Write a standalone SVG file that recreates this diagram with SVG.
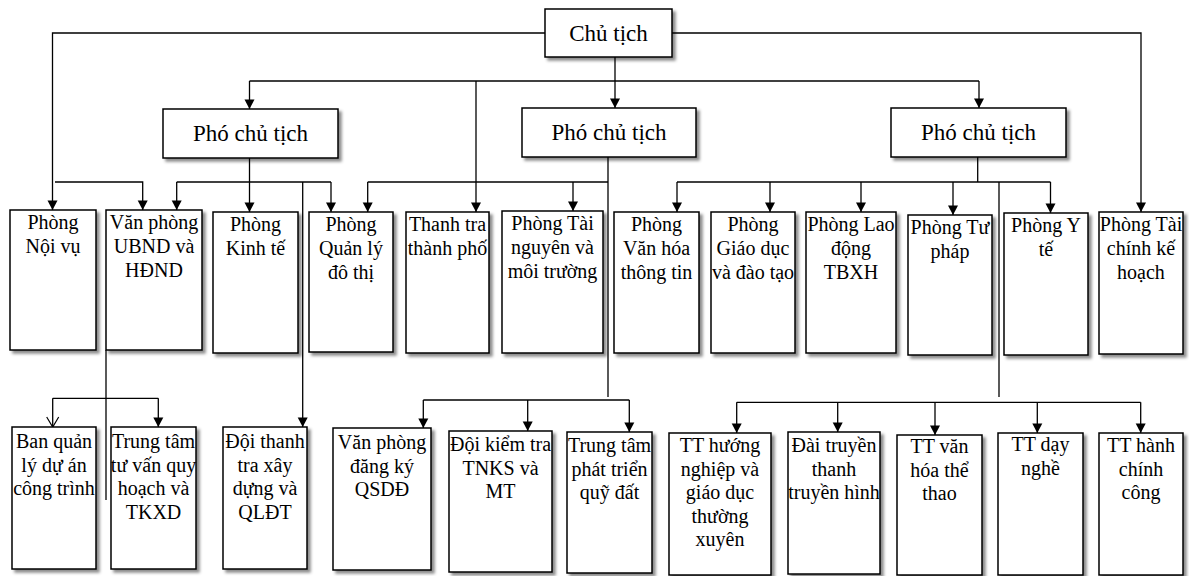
<svg xmlns="http://www.w3.org/2000/svg" width="1189" height="576" viewBox="0 0 1189 576">
  <defs>
    <filter id="shadow" x="-10%" y="-10%" width="130%" height="130%">
      <feDropShadow dx="3" dy="3" stdDeviation="1.6" flood-color="#000" flood-opacity="0.45"/>
    </filter>
    <marker id="arrow" markerUnits="userSpaceOnUse" markerWidth="10" markerHeight="10" refX="9.5" refY="5" orient="auto" overflow="visible">
      <path d="M0,0 L9.5,5 L0,10 z" fill="#000"/>
    </marker>
    <marker id="open" markerUnits="userSpaceOnUse" markerWidth="10" markerHeight="12" refX="10" refY="6" orient="auto" overflow="visible">
      <path d="M0,0 L10,6 L0,12" fill="none" stroke="#000" stroke-width="1.2"/>
    </marker>
    <style>
      .box { fill: #fff; stroke: #000; stroke-width: 1.5; filter: url(#shadow); }
      .lbl { font-family: "Liberation Serif", "Times New Roman", serif; font-size: 20px; fill: #000; text-anchor: middle; }
      .head { font-size: 23px; }
      .conn path { fill: none; stroke: #000; stroke-width: 1.3; }
      .conn .a { marker-end: url(#arrow); }
      .conn .o { marker-end: url(#open); }
    </style>
  </defs>
  <rect width="1189" height="576" fill="#fff"/>

  <!-- connectors -->
  <g id="connectors" class="conn">
    <path class="a" d="M545,33 H52.5 V210"/>
    <path class="a" d="M672,33 H1141 V212"/>
    <path class="a" d="M615,57 V108"/>
    <path d="M249.5,81 H979"/>
    <path class="a" d="M249.5,81 V109"/>
    <path class="a" d="M979,81 V108"/>
    <path class="a" d="M476,81 V212"/>

    <!-- left deputy -->
    <path class="a" d="M249.5,158 V212"/>
    <path d="M176.7,182 H331"/>
    <path class="a" d="M176.7,182 V210"/>
    <path class="a" d="M331,182 V212"/>
    <path class="a" d="M302.7,182 V427"/>
    <path class="a" d="M55,182 H142.7 V210"/>

    <!-- middle deputy -->
    <path d="M608,157 V397"/>
    <path d="M367.7,182 H608"/>
    <path class="a" d="M367.7,182 V212"/>
    <path class="a" d="M573,182 V211"/>
    <path d="M423.3,400 H629.3"/>
    <path class="a" d="M423.3,400 V428"/>
    <path class="a" d="M527.7,400 V431"/>
    <path class="a" d="M629.3,400 V432"/>

    <!-- right deputy -->
    <path d="M977.7,157 V182"/>
    <path d="M677,182 H1050.5"/>
    <path class="a" d="M677,182 V212"/>
    <path class="a" d="M770,182 V212"/>
    <path class="a" d="M861,182 V212"/>
    <path class="a" d="M953,182 V215"/>
    <path class="a" d="M1050.5,182 V213"/>
    <path d="M999,182 V397"/>
    <path d="M736.7,402.3 H1140.7"/>
    <path class="a" d="M736.7,402.3 V433"/>
    <path class="a" d="M837.7,402.3 V432"/>
    <path class="a" d="M935,402.3 V435"/>
    <path class="a" d="M1037.3,402.3 V433"/>
    <path class="a" d="M1140.7,402.3 V433"/>

    <!-- office of people's committee -->
    <path d="M106,350 V500"/>
    <path d="M52.7,398.3 H158.3"/>
    <path class="o" d="M52.7,398.3 V427"/>
    <path class="a" d="M158.3,398.3 V427"/>
  </g>

  <!-- top level -->
  <g id="chu-tich">
    <rect class="box" x="545" y="9" width="127" height="48"/>
    <text class="lbl head" x="608.5" y="41">Chủ tịch</text>
  </g>
  <g id="pho-chu-tich-1">
    <rect class="box" x="163" y="109" width="175" height="49"/>
    <text class="lbl head" x="250.5" y="141">Phó chủ tịch</text>
  </g>
  <g id="pho-chu-tich-2">
    <rect class="box" x="522" y="108" width="174" height="49"/>
    <text class="lbl head" x="609" y="140">Phó chủ tịch</text>
  </g>
  <g id="pho-chu-tich-3">
    <rect class="box" x="891" y="108" width="175" height="49"/>
    <text class="lbl head" x="978.5" y="140">Phó chủ tịch</text>
  </g>

  <!-- departments -->
  <g id="noi-vu">
    <rect class="box" x="10" y="210" width="86" height="140"/>
    <text class="lbl" x="53" y="229"><tspan x="53">Phòng</tspan><tspan x="53" dy="24">Nội vụ</tspan></text>
  </g>
  <g id="van-phong-ubnd">
    <rect class="box" x="106" y="210" width="96" height="140"/>
    <text class="lbl" x="154" y="229"><tspan x="154">Văn phòng</tspan><tspan x="154" dy="24">UBND và</tspan><tspan x="154" dy="24">HĐND</tspan></text>
  </g>
  <g id="kinh-te">
    <rect class="box" x="213" y="212" width="85" height="141"/>
    <text class="lbl" x="255.5" y="231"><tspan x="255.5">Phòng</tspan><tspan x="255.5" dy="24">Kinh tế</tspan></text>
  </g>
  <g id="quan-ly-do-thi">
    <rect class="box" x="309" y="212" width="84" height="140"/>
    <text class="lbl" x="351" y="231"><tspan x="351">Phòng</tspan><tspan x="351" dy="24">Quản lý</tspan><tspan x="351" dy="24">đô thị</tspan></text>
  </g>
  <g id="thanh-tra">
    <rect class="box" x="406" y="212" width="83" height="141"/>
    <text class="lbl" x="447.5" y="231"><tspan x="447.5">Thanh tra</tspan><tspan x="447.5" dy="24">thành phố</tspan></text>
  </g>
  <g id="tai-nguyen">
    <rect class="box" x="502" y="211" width="101" height="142"/>
    <text class="lbl" x="552.5" y="230"><tspan x="552.5">Phòng Tài</tspan><tspan x="552.5" dy="24">nguyên và</tspan><tspan x="552.5" dy="24">môi trường</tspan></text>
  </g>
  <g id="van-hoa">
    <rect class="box" x="614" y="212" width="85" height="141"/>
    <text class="lbl" x="656.5" y="231"><tspan x="656.5">Phòng</tspan><tspan x="656.5" dy="24">Văn hóa</tspan><tspan x="656.5" dy="24">thông tin</tspan></text>
  </g>
  <g id="giao-duc">
    <rect class="box" x="711" y="212" width="84" height="141"/>
    <text class="lbl" x="753" y="231"><tspan x="753">Phòng</tspan><tspan x="753" dy="24">Giáo dục</tspan><tspan x="753" dy="24">và đào tạo</tspan></text>
  </g>
  <g id="lao-dong">
    <rect class="box" x="806" y="212" width="90" height="141"/>
    <text class="lbl" x="851" y="231"><tspan x="851">Phòng Lao</tspan><tspan x="851" dy="24">động</tspan><tspan x="851" dy="24">TBXH</tspan></text>
  </g>
  <g id="tu-phap">
    <rect class="box" x="908" y="215" width="84" height="140"/>
    <text class="lbl" x="950" y="234"><tspan x="950">Phòng Tư</tspan><tspan x="950" dy="24">pháp</tspan></text>
  </g>
  <g id="y-te">
    <rect class="box" x="1004" y="213" width="84" height="142"/>
    <text class="lbl" x="1046" y="232"><tspan x="1046">Phòng Y</tspan><tspan x="1046" dy="24">tế</tspan></text>
  </g>
  <g id="tai-chinh">
    <rect class="box" x="1099" y="212" width="84" height="142"/>
    <text class="lbl" x="1141" y="231"><tspan x="1141">Phòng Tài</tspan><tspan x="1141" dy="24">chính kế</tspan><tspan x="1141" dy="24">hoạch</tspan></text>
  </g>

  <!-- units -->
  <g id="ban-quan-ly">
    <rect class="box" x="12" y="427" width="84" height="142"/>
    <text class="lbl" x="54" y="448"><tspan x="54">Ban quản</tspan><tspan x="54" dy="23.5">lý dự án</tspan><tspan x="54" dy="23.5">công trình</tspan></text>
  </g>
  <g id="trung-tam-tu-van">
    <rect class="box" x="111" y="427" width="85" height="142"/>
    <text class="lbl" x="153.5" y="448"><tspan x="153.5">Trung tâm</tspan><tspan x="153.5" dy="23.5">tư vấn quy</tspan><tspan x="153.5" dy="23.5">hoạch  và</tspan><tspan x="153.5" dy="23.5">TKXD</tspan></text>
  </g>
  <g id="doi-thanh-tra">
    <rect class="box" x="223" y="427" width="84" height="142"/>
    <text class="lbl" x="265" y="448"><tspan x="265">Đội thanh</tspan><tspan x="265" dy="23.5">tra xây</tspan><tspan x="265" dy="23.5">dựng và</tspan><tspan x="265" dy="23.5">QLĐT</tspan></text>
  </g>
  <g id="van-phong-dang-ky">
    <rect class="box" x="333" y="428" width="98" height="142"/>
    <text class="lbl" x="382" y="449"><tspan x="382">Văn phòng</tspan><tspan x="382" dy="23.5">đăng ký</tspan><tspan x="382" dy="23.5">QSDĐ</tspan></text>
  </g>
  <g id="doi-kiem-tra">
    <rect class="box" x="449" y="431" width="103" height="141"/>
    <text class="lbl" x="500.5" y="451"><tspan x="500.5">Đội kiểm tra</tspan><tspan x="500.5" dy="23.5">TNKS và</tspan><tspan x="500.5" dy="23.5">MT</tspan></text>
  </g>
  <g id="phat-trien-quy-dat">
    <rect class="box" x="567" y="432" width="85" height="141"/>
    <text class="lbl" x="609.5" y="452"><tspan x="609.5">Trung tâm</tspan><tspan x="609.5" dy="23.5">phát triển</tspan><tspan x="609.5" dy="23.5">quỹ đất</tspan></text>
  </g>
  <g id="tt-huong-nghiep">
    <rect class="box" x="669" y="433" width="102" height="142"/>
    <text class="lbl" x="720" y="452"><tspan x="720">TT hướng</tspan><tspan x="720" dy="23.5">nghiệp và</tspan><tspan x="720" dy="23.5">giáo dục</tspan><tspan x="720" dy="23.5">thường</tspan><tspan x="720" dy="23.5">xuyên</tspan></text>
  </g>
  <g id="dai-truyen-thanh">
    <rect class="box" x="788" y="432" width="92" height="142"/>
    <text class="lbl" x="834" y="452"><tspan x="834">Đài truyền</tspan><tspan x="834" dy="23.5">thanh</tspan><tspan x="834" dy="23.5">truyền hình</tspan></text>
  </g>
  <g id="tt-van-hoa">
    <rect class="box" x="897" y="435" width="85" height="140"/>
    <text class="lbl" x="939.5" y="453"><tspan x="939.5">TT văn</tspan><tspan x="939.5" dy="23.5">hóa thể</tspan><tspan x="939.5" dy="23.5">thao</tspan></text>
  </g>
  <g id="tt-day-nghe">
    <rect class="box" x="998" y="433" width="85" height="142"/>
    <text class="lbl" x="1040.5" y="451"><tspan x="1040.5">TT dạy</tspan><tspan x="1040.5" dy="23.5">nghề</tspan></text>
  </g>
  <g id="tt-hanh-chinh">
    <rect class="box" x="1099" y="433" width="84" height="142"/>
    <text class="lbl" x="1141" y="452"><tspan x="1141">TT hành</tspan><tspan x="1141" dy="23.5">chính</tspan><tspan x="1141" dy="23.5">công</tspan></text>
  </g>
</svg>
